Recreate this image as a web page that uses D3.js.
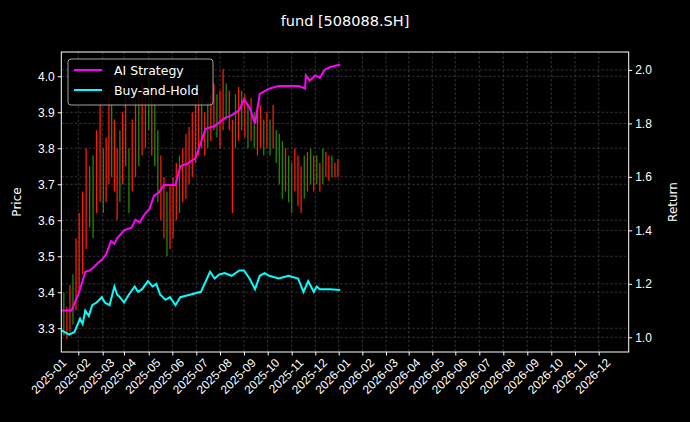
<!DOCTYPE html>
<html>
<head>
<meta charset="utf-8">
<script src="https://cdn.jsdelivr.net/npm/d3@7/dist/d3.min.js"></script>
<style>
  body { margin: 0; background: #000; }
  svg { font-family: "DejaVu Sans", sans-serif; }
  .tick text { fill: #fff; font-size: 12px; }
  .tick line, .domain { stroke: #fff; }
</style>
</head>
<body>
<div id="chart"></div>
<script>
// month ticks shown on the x axis
const monthTicks = ["2025-01","2025-02","2025-03","2025-04","2025-05","2025-06","2025-07","2025-08","2025-09","2025-10","2025-11","2025-12",
  "2026-01","2026-02","2026-03","2026-04","2026-05","2026-06","2026-07","2026-08","2026-09","2026-10","2026-11","2026-12"];

// candles: date, low, high, up (1 = red, 0 = green)
const candleDates = ["2025-01-09","2025-01-13","2025-01-17","2025-01-21","2025-01-25","2025-01-29",
  "2025-02-02","2025-02-06","2025-02-10","2025-02-14","2025-02-18","2025-02-22","2025-02-26",
  "2025-03-02","2025-03-06","2025-03-10","2025-03-14","2025-03-18","2025-03-22","2025-03-26","2025-03-30",
  "2025-04-03","2025-04-07","2025-04-11","2025-04-15","2025-04-19","2025-04-23","2025-04-27",
  "2025-05-01","2025-05-05","2025-05-09","2025-05-13","2025-05-17","2025-05-21","2025-05-25","2025-05-29",
  "2025-06-02","2025-06-06","2025-06-10","2025-06-14","2025-06-18","2025-06-22","2025-06-26","2025-06-30",
  "2025-07-04","2025-07-08","2025-07-12","2025-07-16","2025-07-20","2025-07-24","2025-07-28",
  "2025-08-01","2025-08-05","2025-08-09","2025-08-13","2025-08-17","2025-08-21","2025-08-25","2025-08-29",
  "2025-09-02","2025-09-06","2025-09-10","2025-09-14","2025-09-18","2025-09-22","2025-09-26","2025-09-30",
  "2025-10-04","2025-10-08","2025-10-12","2025-10-16","2025-10-20","2025-10-24","2025-10-28",
  "2025-11-01","2025-11-05","2025-11-09","2025-11-13","2025-11-17","2025-11-21","2025-11-25","2025-11-29",
  "2025-12-03","2025-12-07","2025-12-11","2025-12-15","2025-12-19","2025-12-23","2025-12-27","2025-12-31"];
const candleLow = [3.30,3.28,3.27,3.29,3.31,3.35,
  3.40,3.45,3.52,3.58,3.55,3.62,3.65,
  3.62,3.65,3.70,3.72,3.68,3.60,3.65,3.70,
  3.75,3.62,3.68,3.72,3.75,3.78,3.80,
  3.85,3.78,3.75,3.65,3.60,3.55,3.50,3.52,
  3.55,3.60,3.62,3.65,3.66,3.70,3.72,3.76,
  3.78,3.80,3.78,3.80,3.82,3.85,3.83,
  3.80,3.85,3.88,3.85,3.62,3.80,3.82,3.85,
  3.83,3.80,3.82,3.80,3.78,3.80,3.78,3.80,
  3.78,3.80,3.76,3.70,3.66,3.68,3.65,
  3.62,3.68,3.64,3.62,3.66,3.68,3.70,3.68,
  3.70,3.68,3.70,3.72,3.71,3.72,3.72,3.72];
const candleHigh = [3.45,3.40,3.36,3.42,3.45,3.55,
  3.62,3.68,3.80,3.75,3.78,3.85,3.92,
  3.80,3.83,3.95,3.92,3.88,3.80,3.85,3.90,
  3.95,3.80,3.88,3.93,3.96,3.98,3.97,
  4.00,3.95,3.92,3.85,3.78,3.72,3.68,3.70,
  3.72,3.76,3.78,3.80,3.84,3.86,3.90,3.92,
  3.95,3.94,3.90,3.93,3.95,3.98,3.95,
  3.96,4.02,3.98,3.96,3.88,3.95,3.97,3.96,
  3.95,3.92,3.94,3.90,3.92,3.92,3.88,3.90,
  3.88,3.92,3.85,3.84,3.82,3.80,3.78,
  3.76,3.80,3.78,3.75,3.78,3.79,3.80,3.78,
  3.78,3.76,3.80,3.79,3.78,3.78,3.76,3.77];
const candleUp = [1,0,1,1,0,1, 1,1,1,0,0,1,1, 0,1,1,0,1,1,0,1, 1,0,1,1,0,1,1,
  0,1,0,0,1,1,0,1, 1,1,0,1,1,1,1,1, 1,0,1,0,1,1,0, 1,1,0,1,1,0,1,0,
  1,0,1,0,1,1,0,1, 0,1,0,0,0,1,0, 0,1,1,1,0,1,0,1, 0,1,0,1,1,0,1,1];

// AI strategy cumulative return
const aiDates = ["2025-01-10","2025-01-23","2025-02-01","2025-02-05","2025-02-09","2025-02-14","2025-02-18","2025-02-24","2025-02-28","2025-03-06","2025-03-13","2025-03-18","2025-03-22","2025-04-01",
  "2025-04-10","2025-04-15","2025-04-20","2025-04-26","2025-05-02","2025-05-08","2025-05-14","2025-05-21","2025-06-05","2025-06-11","2025-06-20","2025-06-30",
  "2025-07-06","2025-07-13","2025-07-25","2025-08-07","2025-08-16","2025-08-26","2025-09-01","2025-09-08","2025-09-15","2025-09-21",
  "2025-10-03","2025-10-15","2025-10-28","2025-11-10","2025-11-18","2025-11-19","2025-11-24","2025-12-01","2025-12-07","2025-12-13","2025-12-20","2026-01-03"];
const aiReturn = [1.10,1.10,1.16,1.20,1.245,1.25,1.26,1.28,1.29,1.31,1.36,1.35,1.37,1.40,
  1.41,1.44,1.43,1.46,1.48,1.53,1.54,1.57,1.57,1.64,1.65,1.67,
  1.72,1.78,1.79,1.82,1.83,1.85,1.89,1.86,1.80,1.91,
  1.93,1.94,1.94,1.94,1.93,1.98,1.96,1.98,1.97,2.00,2.01,2.02];

// buy-and-hold cumulative return
const bhDates = ["2025-01-10","2025-01-20","2025-01-27","2025-02-03","2025-02-06","2025-02-09","2025-02-13","2025-02-17","2025-02-22","2025-02-28","2025-03-04","2025-03-11","2025-03-18","2025-03-22","2025-03-26",
  "2025-04-01","2025-04-07","2025-04-14","2025-04-18","2025-04-23","2025-04-30","2025-05-06","2025-05-11","2025-05-16","2025-05-23","2025-05-29","2025-06-05",
  "2025-06-11","2025-06-24","2025-07-07","2025-07-19","2025-07-25","2025-07-31","2025-08-07","2025-08-16","2025-08-26","2025-09-01","2025-09-08",
  "2025-09-15","2025-09-21","2025-09-27","2025-10-03","2025-10-15","2025-10-28","2025-11-09","2025-11-16","2025-11-22","2025-11-29",
  "2025-12-03","2025-12-07","2025-12-20","2026-01-03"];
const bhReturn = [1.026,1.01,1.02,1.07,1.05,1.10,1.08,1.12,1.13,1.15,1.13,1.12,1.19,1.16,1.15,
  1.13,1.16,1.19,1.17,1.18,1.21,1.19,1.20,1.16,1.14,1.15,1.12,
  1.15,1.16,1.17,1.245,1.22,1.235,1.24,1.23,1.25,1.25,1.22,
  1.18,1.23,1.24,1.23,1.22,1.23,1.22,1.17,1.21,1.17,
  1.19,1.18,1.18,1.177];

const width = 690, height = 422;
const pL = 61.3, pR = 628.7, pT = 52, pB = 352;
const parse = d3.timeParse("%Y-%m-%d");
const parseM = d3.timeParse("%Y-%m");

const tickDates = monthTicks.map(parseM);
// measured tick positions (axis is not calendar-linear)
const tickPos = [54.7,78.3,102.7,124,148.7,172.3,196.3,220,244,267.7,291.7,315.3,338.7,
  362.3,386,408.7,432.3,455.3,479.3,503.3,527.3,551.3,575,598.7,622.3];
const x = d3.scaleTime().domain(tickDates.concat([parseM("2027-01")])).range(tickPos);
const yP = d3.scaleLinear().domain([3.234, 4.0675]).range([pB, pT]);
const yR = d3.scaleLinear().domain([0.945, 2.067]).range([pB, pT]);

const svg = d3.select("#chart").append("svg")
  .attr("width", width).attr("height", height)
  .style("background", "#000");

svg.append("text").attr("x", 345).attr("y", 26).attr("text-anchor", "middle")
  .attr("fill", "#fff").style("font-size", "14.5px").text("fund [508088.SH]");

svg.append("clipPath").attr("id", "clip").append("rect")
  .attr("x", pL).attr("y", pT).attr("width", pR - pL).attr("height", pB - pT);

// grid
const grid = svg.append("g").attr("stroke", "#555").attr("stroke-width", 0.6).attr("stroke-dasharray", "2.5,2");
grid.selectAll(".gx").data(tickDates.filter(d => x(d) > pL)).enter().append("line")
  .attr("x1", d => x(d)).attr("x2", d => x(d)).attr("y1", pT).attr("y2", pB);
grid.selectAll(".gy").data(d3.range(3.3, 4.05, 0.1)).enter().append("line")
  .attr("x1", pL).attr("x2", pR).attr("y1", d => yP(d)).attr("y2", d => yP(d));
grid.selectAll(".gr").data([1.0, 1.2, 1.4, 1.6, 1.8, 2.0]).enter().append("line")
  .attr("x1", pL).attr("x2", pR).attr("y1", d => yR(d)).attr("y2", d => yR(d));

const plot = svg.append("g").attr("clip-path", "url(#clip)");

// candles
plot.selectAll(".candle").data(candleDates).enter().append("line")
  .attr("x1", d => x(parse(d))).attr("x2", d => x(parse(d)))
  .attr("y1", (d, i) => yP(candleLow[i])).attr("y2", (d, i) => yP(candleHigh[i]))
  .attr("stroke", (d, i) => candleUp[i] ? "#ff1a00" : "#1f8a00")
  .attr("stroke-width", 1.3);

const line = d3.line().x(d => x(d[0])).y(d => yR(d[1]));
plot.append("path").datum(aiDates.map((d, i) => [parse(d), aiReturn[i]]))
  .attr("d", line).attr("fill", "none").attr("stroke", "#ff00ff").attr("stroke-width", 2);
plot.append("path").datum(bhDates.map((d, i) => [parse(d), bhReturn[i]]))
  .attr("d", line).attr("fill", "none").attr("stroke", "#00ffff").attr("stroke-width", 2);

// axes
const xAxis = d3.axisBottom(x).tickValues(tickDates).tickFormat(d3.timeFormat("%Y-%m")).tickSize(3.5);
const gx = svg.append("g").attr("transform", "translate(0," + pB + ")").call(xAxis);
gx.select(".domain").remove();
gx.selectAll(".tick").filter(d => x(d) < pL).select("line").remove();
gx.selectAll("text").attr("text-anchor", "end")
  .attr("transform", "translate(5,1) rotate(-45)").attr("dy", "0.5em").attr("dx", "-0.2em");

const gl = svg.append("g").attr("transform", "translate(" + pL + ",0)")
  .call(d3.axisLeft(yP).tickValues(d3.range(3.3, 4.05, 0.1)).tickFormat(d3.format(".1f")).tickSize(3.5));
gl.select(".domain").remove();
const gr = svg.append("g").attr("transform", "translate(" + pR + ",0)")
  .call(d3.axisRight(yR).tickValues([1.0, 1.2, 1.4, 1.6, 1.8, 2.0]).tickFormat(d3.format(".1f")).tickSize(3.5));
gr.select(".domain").remove();

svg.append("rect").attr("x", pL).attr("y", pT).attr("width", pR - pL).attr("height", pB - pT)
  .attr("fill", "none").attr("stroke", "#fff").attr("stroke-width", 1);

svg.append("text").attr("transform", "translate(21," + (pT + pB) / 2 + ") rotate(-90)")
  .attr("text-anchor", "middle").attr("fill", "#fff").style("font-size", "12px").text("Price");
svg.append("text").attr("transform", "translate(677," + (pT + pB) / 2 + ") rotate(-90)")
  .attr("text-anchor", "middle").attr("fill", "#fff").style("font-size", "12px").text("Return");

// legend
const legend = svg.append("g").attr("transform", "translate(68,59)");
legend.append("rect").attr("width", 145).attr("height", 46).attr("rx", 3)
  .attr("fill", "#000").attr("stroke", "#ccc").attr("stroke-width", 0.8).attr("fill-opacity", 0.8);
const items = [["AI Strategy", "#ff00ff"], ["Buy-and-Hold", "#00ffff"]];
items.forEach((it, i) => {
  legend.append("line").attr("x1", 6).attr("x2", 34).attr("y1", 11 + i * 20).attr("y2", 11 + i * 20)
    .attr("stroke", it[1]).attr("stroke-width", 2);
  legend.append("text").attr("x", 46).attr("y", 15.5 + i * 20).attr("fill", "#fff")
    .style("font-size", "12.5px").text(it[0]);
});
</script>
</body>
</html>
